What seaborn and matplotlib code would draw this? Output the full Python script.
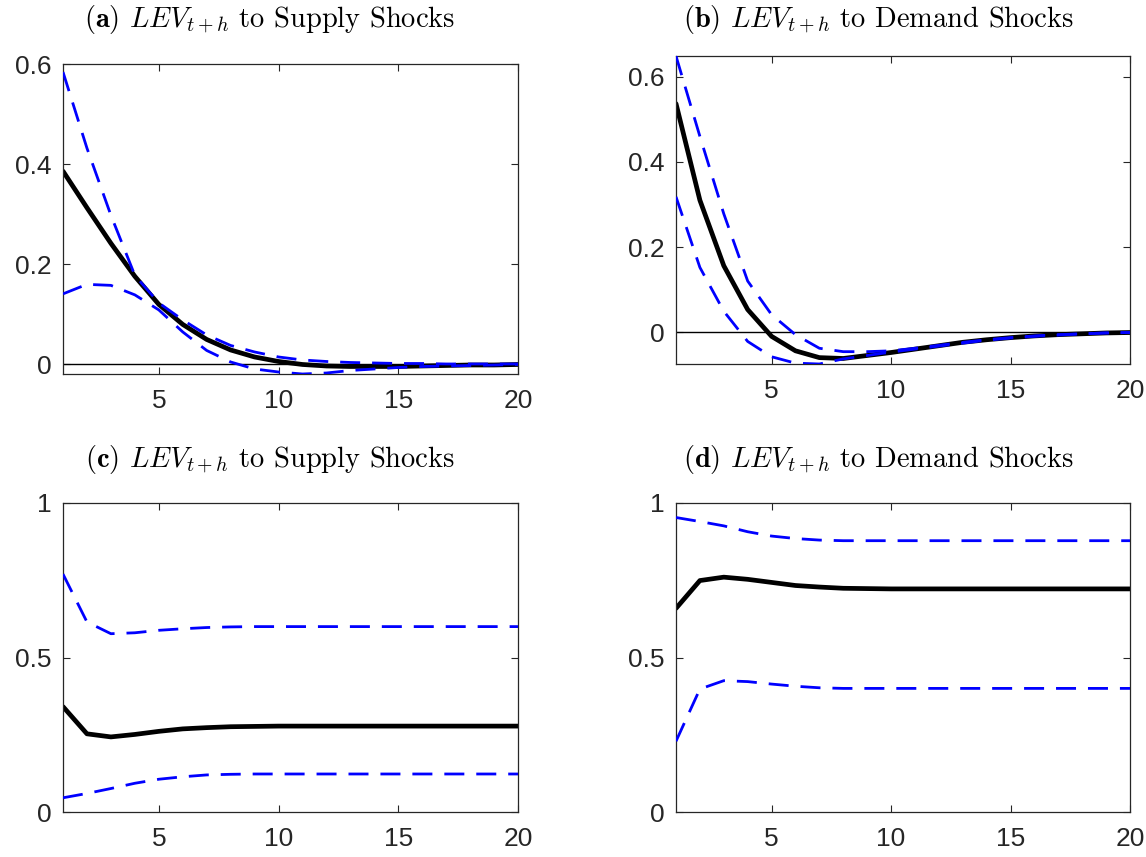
import numpy as np
import matplotlib
matplotlib.use("Agg")
import matplotlib.pyplot as plt
import seaborn as sns

# horizons
h = list(range(1, 21))

# (a) supply shocks, upper panel
a_mid = [0.386, 0.313, 0.242, 0.176, 0.120, 0.080, 0.050, 0.029, 0.015, 0.006,
         0.000, -0.003, -0.004, -0.004, -0.004, -0.003, -0.002, -0.001, -0.001, 0.000]
a_hi = [0.584, 0.432, 0.298, 0.178, 0.123, 0.089, 0.059, 0.038, 0.025, 0.015,
        0.009, 0.006, 0.004, 0.003, 0.002, 0.002, 0.001, 0.001, 0.001, 0.001]
a_lo = [0.141, 0.160, 0.158, 0.139, 0.109, 0.065, 0.028, 0.005, -0.009, -0.015,
        -0.019, -0.017, -0.012, -0.009, -0.006, -0.004, -0.003, -0.002, -0.001, 0.000]

# (b) demand shocks, upper panel
b_mid = [0.537, 0.310, 0.156, 0.053, -0.010, -0.044, -0.060, -0.062, -0.055, -0.048,
         -0.040, -0.032, -0.024, -0.018, -0.013, -0.009, -0.006, -0.004, -0.002, -0.001]
b_hi = [0.649, 0.460, 0.278, 0.120, 0.041, -0.006, -0.038, -0.046, -0.046, -0.044,
        -0.038, -0.031, -0.024, -0.018, -0.013, -0.009, -0.006, -0.004, -0.002, -0.001]
b_lo = [0.318, 0.152, 0.049, -0.022, -0.058, -0.073, -0.075, -0.063, -0.055, -0.047,
        -0.040, -0.033, -0.026, -0.019, -0.014, -0.010, -0.007, -0.004, -0.002, -0.001]

# (c) supply shocks, lower panel
c_mid = [0.341, 0.253, 0.243, 0.251, 0.261, 0.269, 0.273, 0.276, 0.277, 0.278,
         0.278, 0.278, 0.278, 0.278, 0.278, 0.278, 0.278, 0.278, 0.278, 0.278]
c_hi = [0.770, 0.615, 0.577, 0.580, 0.588, 0.593, 0.597, 0.599, 0.600, 0.600,
        0.600, 0.600, 0.600, 0.600, 0.600, 0.600, 0.600, 0.600, 0.600, 0.600]
c_lo = [0.046, 0.060, 0.076, 0.093, 0.106, 0.114, 0.120, 0.122, 0.123, 0.123,
        0.123, 0.123, 0.123, 0.123, 0.123, 0.123, 0.123, 0.123, 0.123, 0.123]

# (d) demand shocks, lower panel
d_mid = [0.659, 0.749, 0.760, 0.753, 0.743, 0.733, 0.728, 0.724, 0.723, 0.722,
         0.722, 0.722, 0.722, 0.722, 0.722, 0.722, 0.722, 0.722, 0.722, 0.722]
d_hi = [0.953, 0.940, 0.926, 0.907, 0.893, 0.885, 0.880, 0.878, 0.878, 0.878,
        0.878, 0.878, 0.878, 0.878, 0.878, 0.878, 0.878, 0.878, 0.878, 0.878]
d_lo = [0.229, 0.398, 0.425, 0.422, 0.414, 0.407, 0.402, 0.400, 0.400, 0.400,
        0.400, 0.400, 0.400, 0.400, 0.400, 0.400, 0.400, 0.400, 0.400, 0.400]

titles = [r"$\mathbf{(a)}$ $LEV_{t+h}$ to Supply Shocks",
          r"$\mathbf{(b)}$ $LEV_{t+h}$ to Demand Shocks",
          r"$\mathbf{(c)}$ $LEV_{t+h}$ to Supply Shocks",
          r"$\mathbf{(d)}$ $LEV_{t+h}$ to Demand Shocks"]
ylims = [(-0.019, 0.60), (-0.075, 0.649), (0, 1), (0, 1)]
yticks = [[0, 0.2, 0.4, 0.6], [0, 0.2, 0.4, 0.6], [0, 0.5, 1], [0, 0.5, 1]]
ytick_labels = [["0", "0.2", "0.4", "0.6"], ["0", "0.2", "0.4", "0.6"],
                ["0", "0.5", "1"], ["0", "0.5", "1"]]
xticks = [5, 10, 15, 20]

sns.set_theme(style="ticks")
plt.rcParams["mathtext.fontset"] = "cm"
plt.rcParams["font.family"] = ["Liberation Sans", "DejaVu Sans"]

W, H = 1146, 857
fig = plt.figure(figsize=(W / 100, H / 100), dpi=100)

# axes boxes in pixels: left, top, right, bottom
boxes = [(63, 64, 518, 374), (676, 56, 1130, 364),
         (63, 503, 518, 812), (676, 503, 1130, 812)]
# title centre positions in pixels
title_pos = [(270, 19), (878, 19), (270, 459), (878, 459)]

series = [(a_mid, a_hi, a_lo), (b_mid, b_hi, b_lo),
          (c_mid, c_hi, c_lo), (d_mid, d_hi, d_lo)]

axcol = "#262626"
dash = (0, (7.2, 4.3))
for i, (l, t, r, b) in enumerate(boxes):
    ax = fig.add_axes([l / W, 1 - b / H, (r - l) / W, (b - t) / H])
    mid, hi, lo = series[i]
    if i < 2:
        ax.axhline(0, color="black", lw=1.0, zorder=1)
    sns.lineplot(x=h, y=hi, ax=ax, color="blue", lw=2.0, linestyle=dash, zorder=3)
    sns.lineplot(x=h, y=lo, ax=ax, color="blue", lw=2.0, linestyle=dash, zorder=3)
    sns.lineplot(x=h, y=mid, ax=ax, color="black", lw=3.4, zorder=2)
    ax.set_xlim(1, 20)
    ax.set_ylim(*ylims[i])
    ax.set_xticks(xticks)
    ax.set_xticklabels([str(v) for v in xticks])
    ax.set_yticks(yticks[i])
    ax.set_yticklabels(ytick_labels[i])
    ax.tick_params(direction="in", top=True, right=True, length=5, width=0.8,
                   color=axcol, labelcolor=axcol, labelsize=19, pad=8)
    ax.tick_params(axis="x", pad=11)
    for sp in ax.spines.values():
        sp.set_color(axcol)
        sp.set_linewidth(0.9)
        sp.set_visible(True)
    tx, ty = title_pos[i]
    fig.text(tx / W, 1 - ty / H, titles[i], fontsize=20.5,
             family=["cmr10", "DejaVu Serif"], color="black",
             ha="center", va="center")

fig.savefig("out.png", dpi=100)
